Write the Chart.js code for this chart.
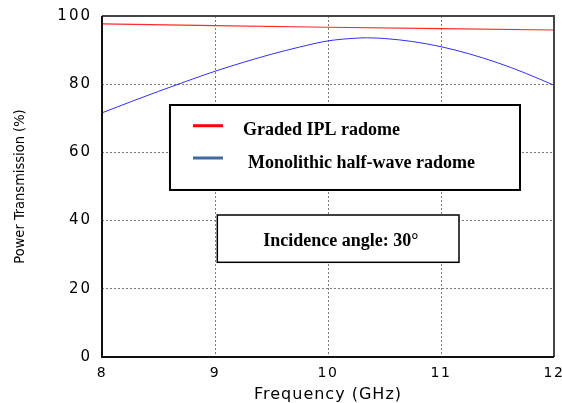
<!DOCTYPE html>
<html>
<head>
<meta charset="utf-8">
<script src="https://cdn.jsdelivr.net/npm/chart.js@4/dist/chart.umd.min.js"></script>
<style>
  html, body { margin: 0; padding: 0; background: #ffffff; }
  #wrap { width: 562px; height: 403px; }
</style>
</head>
<body>
<div id="wrap"><canvas id="chart" width="562" height="403"></canvas></div>
<script>
// Power transmission vs frequency, two radome designs at 30° incidence
const freqIpl = [8, 9, 10, 11, 12];
const transIpl = [97.7, 97.2, 96.7, 96.3, 95.9];

const freqMono = [8, 8.25, 8.5, 8.75, 9, 9.25, 9.5, 9.75, 10, 10.25, 10.35, 10.5, 10.75, 11, 11.25, 11.5, 11.75, 12];
const transMono = [71.6, 74.8, 77.9, 80.9, 83.8, 86.4, 88.8, 90.9, 92.7, 93.5, 93.6, 93.4, 92.5, 91.0, 88.9, 86.3, 83.2, 79.7];

const xTickValues = [8, 9, 10, 11, 12];
const yTickValues = [0, 20, 40, 60, 80, 100];

const seriesLabels = ['Graded IPL radome', 'Monolithic half-wave radome'];
const annotationText = 'Incidence angle: 30\u00B0';

const toPoints = (xs, ys) => xs.map((x, i) => ({ x: x, y: ys[i] }));

// Wrap a scale's text-drawing method so it renders with extra letter spacing
function withSpacing(scale, fn, px) {
  const orig = scale[fn];
  scale[fn] = function (...args) {
    const c = this.ctx;
    c.save();
    c.letterSpacing = px;
    orig.apply(this, args);
    c.restore();
  };
}

const textSpacing = {
  id: 'textSpacing',
  beforeDraw(chart) {
    const { x, y } = chart.scales;
    if (!x._spaced) {
      withSpacing(x, 'drawLabels', '1.6px');
      withSpacing(x, 'drawTitle', '1px');
      x._spaced = true;
    }
    if (!y._spaced) {
      withSpacing(y, 'drawLabels', '2px');
      y._spaced = true;
    }
  }
};

// Legend box, annotation box and plot frame
const overlays = {
  id: 'overlays',
  afterDatasetsDraw(chart) {
    const ctx = chart.ctx;
    const a = chart.chartArea;
    const W = a.right - a.left, H = a.bottom - a.top;
    const px = f => a.left + f * W;
    const py = f => a.top + f * H;

    ctx.save();
    // legend box
    const lx0 = px(0.1504), lx1 = px(0.9248), ly0 = py(0.2610), ly1 = py(0.5102);
    ctx.fillStyle = '#ffffff';
    ctx.fillRect(lx0, ly0, lx1 - lx0, ly1 - ly0);
    ctx.strokeStyle = '#000000';
    ctx.lineWidth = 2;
    ctx.strokeRect(lx0, ly0, lx1 - lx0, ly1 - ly0);

    const swatchColors = ['#ff0000', '#3f6aa0'];
    const swatchY = [py(0.3217), py(0.4164)];
    const baseY = [py(0.3490), py(0.4466)];
    const textX = [px(0.3119), px(0.3230)];
    ctx.font = 'bold 18px "Liberation Serif", "Times New Roman", serif';
    ctx.textBaseline = 'alphabetic';
    ctx.textAlign = 'left';
    for (let i = 0; i < 2; i++) {
      ctx.strokeStyle = swatchColors[i];
      ctx.lineWidth = 3;
      ctx.beginPath();
      ctx.moveTo(px(0.2013), swatchY[i]);
      ctx.lineTo(px(0.2677), swatchY[i]);
      ctx.stroke();
      ctx.fillStyle = '#000000';
      ctx.fillText(chart.data.datasets[i].label, textX[i], baseY[i]);
    }

    // annotation box
    const ax0 = px(0.2551), ax1 = px(0.7898), ay0 = py(0.5836), ay1 = py(0.7223);
    ctx.fillStyle = '#ffffff';
    ctx.fillRect(ax0, ay0, ax1 - ax0, ay1 - ay0);
    ctx.strokeStyle = '#000000';
    ctx.lineWidth = 1.5;
    ctx.strokeRect(ax0, ay0, ax1 - ax0, ay1 - ay0);
    ctx.fillStyle = '#000000';
    ctx.fillText(annotationText, px(0.3568), py(0.6745));

    // plot frame
    ctx.lineWidth = 2;
    ctx.strokeStyle = '#444444';
    ctx.beginPath();
    ctx.moveTo(a.left, a.top);
    ctx.lineTo(a.right, a.top);
    ctx.lineTo(a.right, a.bottom);
    ctx.stroke();
    ctx.strokeStyle = '#111111';
    ctx.beginPath();
    ctx.moveTo(a.left, a.top);
    ctx.lineTo(a.left, a.bottom);
    ctx.lineTo(a.right, a.bottom);
    ctx.stroke();
    ctx.restore();
  }
};

const sansFamily = '"DejaVu Sans", Arial, sans-serif';

new Chart(document.getElementById('chart'), {
  type: 'line',
  data: {
    datasets: [
      {
        label: seriesLabels[0],
        data: toPoints(freqIpl, transIpl),
        borderColor: '#ff2b2b',
        borderWidth: 1.2,
        pointRadius: 0,
        tension: 0,
        fill: false
      },
      {
        label: seriesLabels[1],
        data: toPoints(freqMono, transMono),
        borderColor: '#2f2fff',
        borderWidth: 1,
        pointRadius: 0,
        cubicInterpolationMode: 'monotone',
        fill: false
      }
    ]
  },
  options: {
    responsive: false,
    animation: false,
    devicePixelRatio: 1,
    layout: { padding: { top: 16, right: 8, left: 0, bottom: 0 } },
    plugins: {
      legend: { display: false },
      tooltip: { enabled: false }
    },
    scales: {
      x: {
        type: 'linear',
        min: 8,
        max: 12,
        afterBuildTicks: s => { s.ticks = xTickValues.map(v => ({ value: v })); },
        afterFit: s => { s.height = 46; s.paddingLeft = 0; s.paddingRight = 0; },
        grid: { color: '#7a7a7a', lineWidth: 1, drawTicks: false },
        border: { display: false, dash: [2, 2] },
        ticks: { color: '#000000', font: { family: sansFamily, size: 14 }, padding: 8, maxRotation: 0, autoSkip: false },
        title: {
          display: true,
          text: 'Frequency (GHz)',
          color: '#000000',
          font: { family: sansFamily, size: 16 },
          padding: { top: 0, bottom: -1 }
        }
      },
      y: {
        type: 'linear',
        min: 0,
        max: 100,
        afterBuildTicks: s => { s.ticks = yTickValues.map(v => ({ value: v })); },
        afterFit: s => { s.width = 102; s.paddingTop = 0; s.paddingBottom = 0; },
        grid: { color: '#7a7a7a', lineWidth: 1, drawTicks: false },
        border: { display: false, dash: [2, 2] },
        ticks: { color: '#000000', font: { family: sansFamily, size: 15 }, padding: 10 },
        title: {
          display: true,
          text: 'Power Transmission (%)',
          color: '#000000',
          font: { family: '"Liberation Sans Narrow", "Arial Narrow", "DejaVu Sans Condensed", Arial, sans-serif', size: 14.5 },
          padding: { top: 12, bottom: 0 }
        }
      }
    }
  },
  plugins: [textSpacing, overlays]
});
</script>
</body>
</html>
